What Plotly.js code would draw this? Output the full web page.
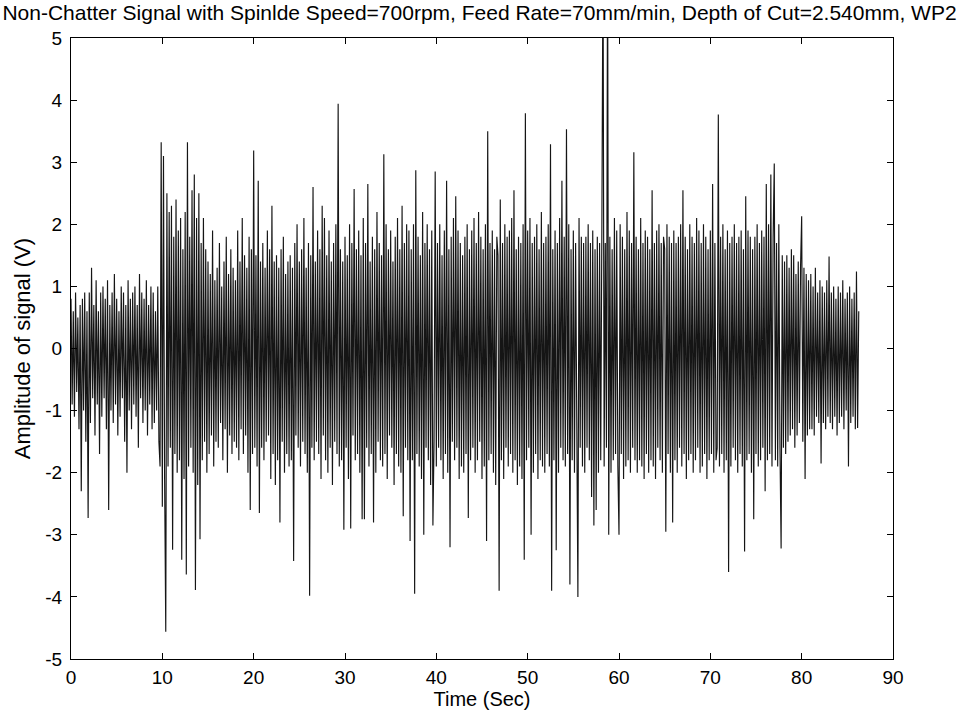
<!DOCTYPE html>
<html>
<head>
<meta charset="utf-8">
<script src="https://cdn.plot.ly/plotly-3.0.1.min.js"></script>
<style>html,body{margin:0;padding:0;background:#fff;}#chart{width:959px;height:713px;}</style>
</head>
<body>
<div id="chart"></div>
<script>
// Chart text
const TITLE = "Non-Chatter Signal with Spinlde Speed=700rpm, Feed Rate=70mm/min, Depth of Cut=2.540mm, WP2";
const X_LABEL = "Time (Sec)";
const Y_LABEL = "Amplitude of signal (V)";
const X_TICKS = [0, 10, 20, 30, 40, 50, 60, 70, 80, 90];
const Y_TICKS = [-5, -4, -3, -2, -1, 0, 1, 2, 3, 4, 5];

// Sampling of the recorded signal (seconds)
const SAMPLE_START = 0;
const SAMPLE_STEP = 0.125;

// Signal amplitude (V), 8 samples per second
const amplitude = [
  0.8,-0.9,0.6,-1.1,0.9,-0.7,0.5,-1.3,
  0.7,-2.3,0.8,-1.0,0.9,-1.5,0.6,-2.73,
  0.9,-1.2,1.3,-0.8,0.7,-1.4,1.1,-0.9,
  0.6,-1.7,0.9,-1.1,1.0,-0.8,0.8,-1.3,
  1.1,-2.6,0.7,-1.0,0.9,-1.2,1.2,-0.9,
  0.8,-1.4,0.6,-1.1,1.0,-0.8,0.9,-1.5,
  0.7,-2.0,1.1,-1.0,0.8,-1.3,0.9,-0.9,
  1.0,-1.1,0.7,-1.6,1.2,-0.8,0.9,-1.2,
  0.8,-1.0,1.1,-1.4,0.7,-0.9,1.0,-1.3,
  0.9,-1.2,0.6,-1.0,1.0,-1.5,-1.9,3.32,
  -2.55,3.1,-2.1,-4.56,2.5,-1.9,2.2,-1.6,
  2.3,-3.24,1.8,-1.7,2.4,-2.0,1.9,-1.8,
  2.1,-3.4,1.6,-2.1,2.2,-3.64,3.32,-1.9,
  1.8,-1.6,2.55,-2.0,2.8,-3.89,2.1,-2.2,
  2.5,-3.07,1.7,-1.8,2.1,-1.5,1.6,-2.0,
  1.4,-1.7,1.2,-1.4,1.9,-1.9,1.1,-1.5,
  1.3,-1.6,1.7,-1.2,1.0,-1.8,1.4,-1.3,
  1.8,-2.0,1.2,-1.4,1.6,-1.7,1.3,-1.5,
  1.1,-1.6,1.9,-1.8,1.4,-1.3,2.1,-1.7,
  1.5,-1.4,1.3,-2.0,1.8,-2.6,1.6,-1.7,
  3.19,-1.6,1.5,-1.9,2.7,-2.65,1.4,-1.6,
  1.7,-1.8,1.3,-1.5,1.9,-1.4,1.6,-2.1,
  2.3,-1.7,1.4,-2.2,1.5,-1.8,1.3,-2.8,
  1.6,-1.5,1.8,-2.0,1.2,-1.7,1.4,-1.9,
  1.5,-1.8,1.3,-3.42,1.7,-1.4,2.0,-1.6,
  1.4,-1.9,1.6,-1.5,2.1,-1.7,1.3,-2.0,
  1.7,-3.98,1.5,-1.6,2.6,-1.8,1.4,-1.5,
  1.9,-1.7,1.6,-2.1,2.3,-1.4,2.1,-1.8,
  1.5,-2.0,1.9,-1.6,1.4,-2.2,1.7,-1.5,
  2.0,-1.7,3.94,-1.9,1.6,-1.8,1.4,-2.92,
  1.8,-1.6,1.5,-2.1,2.0,-2.9,1.7,-1.4,
  2.57,-1.8,1.6,-1.7,1.9,-2.0,1.5,-2.75,
  2.1,-2.75,1.7,-1.6,2.65,-1.9,1.4,-1.7,
  1.8,-2.8,1.6,-2.0,2.2,-1.5,1.7,-1.8,
  1.5,-1.9,3.13,-1.7,2.0,-2.1,1.6,-1.4,
  1.9,-1.6,1.4,-2.2,1.8,-1.7,2.1,-1.9,
  1.6,-2.0,2.3,-2.7,1.7,-1.6,2.0,-1.8,
  1.9,-3.1,1.6,-1.8,2.0,-3.95,2.87,-1.7,
  1.8,-1.9,1.5,-2.1,2.2,-3.0,1.7,-1.6,
  2.0,-1.8,1.6,-2.2,1.9,-2.85,-1.5,2.85,
  -1.9,1.7,-1.6,2.0,-1.8,1.5,-2.1,1.9,
  -1.7,2.7,-2.0,1.6,-3.2,1.8,-1.5,2.1,
  -1.8,2.45,-1.6,1.9,-2.1,1.7,-1.9,1.5,
  -2.0,1.8,-1.7,2.0,-2.73,1.6,-1.8,1.9,
  -1.6,2.1,-2.0,1.7,-1.8,2.2,-1.5,1.8,
  -2.1,1.6,-1.9,2.0,-3.1,3.5,-1.8,1.7,
  -1.7,1.9,-2.0,1.6,-2.2,1.8,1.5,-3.9,
  2.4,-1.8,1.7,-2.1,2.0,-1.6,1.8,-1.9,
  1.9,-1.7,2.1,-2.0,2.55,-1.8,1.6,-2.2,
  1.8,-1.9,1.7,-2.1,2.0,-3.4,3.79,-1.8,
  1.9,-1.6,2.1,-3.0,1.7,-2.0,1.8,-1.7,
  2.0,-2.1,1.6,-1.8,2.2,-1.9,1.7,-2.0,
  1.8,-1.7,2.0,-1.9,3.29,-3.9,1.6,-1.8,
  1.9,-3.25,1.7,-2.0,2.1,-1.6,2.7,-1.8,
  1.8,-1.9,3.53,-1.7,2.0,-3.8,1.6,-1.8,
  1.9,-2.0,1.7,-1.8,-4.0,2.1,-1.6,1.8,
  -1.9,1.7,-2.0,1.8,-1.6,2.0,-1.8,1.7,
  -2.39,1.9,-2.85,1.6,-2.6,1.8,-2.0,1.7,
  -1.8,2.0,6.5,-1.9,1.7,-1.6,6.5,-3.0,
  1.8,-2.0,1.6,-1.8,2.1,-1.7,1.9,-1.9,
  -3.0,2.0,-1.7,1.8,-2.1,1.6,-1.9,2.2,
  -1.8,1.9,-2.0,1.7,-1.6,3.16,-1.8,1.8,
  -2.0,1.6,-1.8,2.1,-1.9,1.7,-2.1,1.9,
  -1.7,1.8,-2.0,1.6,-1.8,2.55,-1.9,1.7,
  -2.1,1.9,-1.6,2.0,-1.8,1.7,-2.0,1.8,
  1.6,-2.95,2.0,-1.7,1.8,-2.0,1.7,-2.8,
  1.9,-1.8,1.7,-2.0,1.8,-1.6,2.0,-1.9,
  2.55,-1.7,1.8,-2.1,1.6,-1.8,2.0,-1.7,
  1.8,-2.0,1.7,-1.8,2.1,-1.6,1.9,-2.0,
  1.7,-1.9,2.0,-1.7,1.8,-2.1,1.6,-1.8,
  1.9,-1.7,2.65,-2.0,1.7,-1.8,-1.6,3.77,
  -1.9,1.8,-1.7,2.0,-2.0,1.6,-1.8,1.9,
  -3.6,1.7,-1.9,1.8,-1.6,2.0,-1.8,1.7,
  -2.0,1.8,-1.7,1.9,-1.9,1.6,-3.27,2.45,
  -1.8,1.9,-1.7,1.8,-2.0,1.6,-2.75,1.8,
  -1.7,2.0,-1.9,1.7,-1.8,1.9,-1.6,1.8,
  -2.3,2.65,-1.8,2.0,-1.7,2.8,-1.9,1.8,
  2.98,-1.8,1.7,-1.9,2.0,-1.6,-3.22,1.5,
  -1.6,1.4,-1.7,1.5,-1.5,1.3,-1.4,1.6,
  -1.3,1.5,-1.6,1.2,-1.4,1.4,-1.2,1.3,
  2.13,-1.5,1.3,-2.1,1.2,-1.4,1.1,-1.3,
  1.2,-1.3,1.0,-1.4,1.3,-1.1,0.9,-1.2,
  1.1,-1.85,1.0,-1.2,0.9,-1.3,1.1,-1.1,
  1.48,-1.2,0.9,-1.3,1.0,-1.1,0.8,-1.4,
  1.0,-1.2,0.9,-1.1,1.1,-1.3,0.8,-1.0,
  0.9,-1.9,1.0,-1.2,0.8,-1.1,0.9,-1.3,
  1.24,-1.28,0.6
];

const FONT = "Liberation Sans, Arial, Helvetica, sans-serif";

const trace = {
  type: "scatter",
  mode: "lines",
  y: amplitude,
  x0: SAMPLE_START,
  dx: SAMPLE_STEP,
  line: { color: "#151515", width: 1.15 },
  hoverinfo: "skip"
};

const axisCommon = {
  showline: true,
  linecolor: "#000",
  linewidth: 1,
  mirror: "allticks",
  ticks: "inside",
  ticklen: 6,
  tickcolor: "#000",
  tickwidth: 1,
  showgrid: false,
  zeroline: false,
  tickfont: { family: FONT, size: 19, color: "#000" }
};

const layout = {
  width: 959,
  height: 713,
  paper_bgcolor: "#fff",
  plot_bgcolor: "#fff",
  showlegend: false,
  margin: { l: 71, r: 66, t: 38, b: 54 },
  title: {
    text: TITLE,
    font: { family: FONT, size: 21, color: "#000" },
    x: 0.5, xref: "container",
    y: 1 - 13 / 713, yref: "container", yanchor: "middle"
  },
  xaxis: Object.assign({}, axisCommon, {
    range: [X_TICKS[0], X_TICKS[X_TICKS.length - 1]],
    tickmode: "array",
    tickvals: X_TICKS,
    ticktext: X_TICKS.map(String),
    ticklabelstandoff: 1,
    title: { text: X_LABEL, font: { family: FONT, size: 20, color: "#000" }, standoff: 4 }
  }),
  yaxis: Object.assign({}, axisCommon, {
    range: [Y_TICKS[0], Y_TICKS[Y_TICKS.length - 1]],
    tickmode: "array",
    tickvals: Y_TICKS,
    ticktext: Y_TICKS.map(String),
    ticklabelstandoff: 4,
    title: { text: Y_LABEL, font: { family: FONT, size: 22, color: "#000" }, standoff: 8 }
  })
};

Plotly.newPlot("chart", [trace], layout, { displayModeBar: false, staticPlot: true });
</script>
</body>
</html>
